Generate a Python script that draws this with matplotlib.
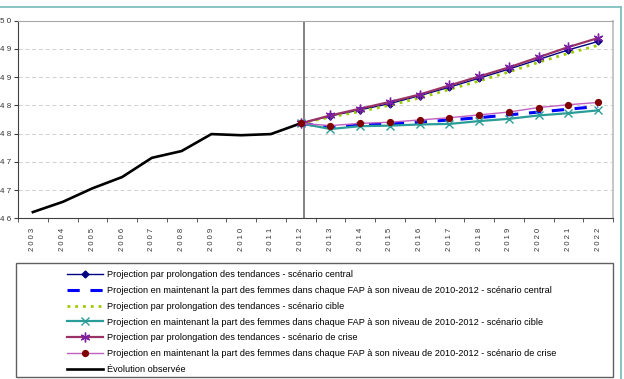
import matplotlib
matplotlib.use("Agg")
import matplotlib.pyplot as plt
from matplotlib.lines import Line2D
from matplotlib.patches import Rectangle
import numpy as np

plt.rcParams["font.family"] = ["Liberation Sans Narrow", "Liberation Sans", "DejaVu Sans"]

YEARS = [str(y) for y in range(2003, 2023)]
OBS_YEARS = YEARS[:10]
PROJ_YEARS = YEARS[9:]

observed = [46.11, 46.29, 46.53, 46.73, 47.07, 47.19, 47.49, 47.47, 47.49, 47.68]

# projections, 2012 -> 2022
tend_central = [47.68, 47.81, 47.92, 48.03, 48.17, 48.32, 48.48, 48.64, 48.81, 48.98, 49.13]
maint_central = [47.68, 47.61, 47.65, 47.67, 47.70, 47.74, 47.78, 47.83, 47.88, 47.93, 47.98]
tend_cible = [47.68, 47.79, 47.89, 48.00, 48.13, 48.28, 48.43, 48.59, 48.76, 48.92, 49.06]
maint_cible = [47.68, 47.58, 47.63, 47.64, 47.66, 47.67, 47.72, 47.76, 47.82, 47.86, 47.91]
tend_crise = [47.68, 47.82, 47.94, 48.06, 48.19, 48.35, 48.51, 48.67, 48.85, 49.03, 49.19]
maint_crise = [47.68, 47.64, 47.68, 47.70, 47.74, 47.78, 47.83, 47.88, 47.96, 48.01, 48.05]

LABELS = [
    "Projection par prolongation des tendances - scénario central",
    "Projection en maintenant la part des femmes dans chaque FAP à son niveau de 2010-2012 - scénario central",
    "Projection par prolongation des tendances - scénario cible",
    "Projection en maintenant la part des femmes dans chaque FAP à son niveau de 2010-2012 - scénario cible",
    "Projection par prolongation des tendances - scénario de crise",
    "Projection en maintenant la part des femmes dans chaque FAP à son niveau de 2010-2012 - scénario de crise",
    "Évolution observée",
]
Y_TICKS = [46.0, 46.5, 47.0, 47.5, 48.0, 48.5, 49.0, 49.5]

W, H = 624, 379
fig = plt.figure(figsize=(W / 100, H / 100), dpi=100)
ax = fig.add_axes([18 / W, 1 - 218.3 / H, (613 - 18) / W, (218.3 - 20.5) / H])

xo = np.arange(len(OBS_YEARS))
xp = np.arange(9, 9 + len(PROJ_YEARS))

ASTER = (6, 2, 0)
styles = [
    (tend_central, dict(color="#000080", lw=1.0, marker="D", ms=3.5, mfc="#000080", mec="#000080")),
    (maint_central, dict(color="#0000ff", lw=2.2, ls=(0, (4, 3.5)))),
    (tend_cible, dict(color="#99cc00", lw=2.0, ls=(0, (1, 1.8)))),
    (maint_cible, dict(color="#2a9d98", lw=1.6, marker="x", ms=6, mew=1.0, mec="#2a9d98")),
    (tend_crise, dict(color="#993366", lw=1.6, marker=ASTER, ms=7, mew=1.0, mec="#7b1fa2")),
    (maint_crise, dict(color="#c060c0", lw=1.0, marker="o", ms=4.2, mfc="#800000", mec="#800000")),
]

ax.plot(xo, observed, color="black", lw=1.9, zorder=3)
handles = []
for vals, st in styles:
    ax.plot(xp, vals, zorder=4, **st)
    handles.append(Line2D([], [], **st))
handles.append(Line2D([], [], color="black", lw=1.9))

ax.axvline(9.12, color="#606060", lw=1.1, zorder=2)

ax.set_xlim(-0.5, len(YEARS) - 0.5)
ax.set_ylim(46, 49.5)
ax.set_yticks(Y_TICKS)
ax.set_yticklabels([" ".join(str(int(np.floor(v + 0.5)))) for v in Y_TICKS],
                   fontsize=5.8, color="#333333")
ax.set_xticks(np.arange(len(YEARS)))
ax.set_xticklabels([" ".join(y) for y in YEARS], rotation=90, fontsize=5.5,
                   color="#333333", va="top")
ax.set_xticks(np.arange(-0.5, len(YEARS)), minor=True)
ax.tick_params(axis="x", which="major", length=0, pad=7)
ax.tick_params(axis="x", which="minor", length=3, color="#404040")
ax.tick_params(axis="y", length=3, color="#404040", pad=2)

for y in Y_TICKS[1:]:
    ax.axhline(y, color="#d0d0d0", lw=0.7, ls=(0, (4, 3)), zorder=1)

ax.spines["left"].set_color("#404040")
ax.spines["bottom"].set_color("#404040")
ax.spines["top"].set_color("#a8a8a8")
ax.spines["right"].set_color("#c0c0c0")
ax.spines["right"].set_linewidth(1.3)

# legend box
fig.patches.append(Rectangle((16 / W, 1 - 377 / H), (613 - 16) / W, (377 - 263) / H,
                             transform=fig.transFigure, fill=False,
                             edgecolor="#606060", lw=1.0))
fig.legend(handles, LABELS, loc="upper left",
           bbox_to_anchor=(60 / W, 1 - 263 / H), frameon=False,
           fontsize=6.6, handlelength=3.9, handletextpad=0.45,
           labelspacing=0.74, borderpad=0.3)

# outer chart frame
fig.add_artist(Line2D([0, 621 / W], [1 - 6.5 / H, 1 - 6.5 / H],
                      transform=fig.transFigure, color="#7fbfc0", lw=1.3))
fig.add_artist(Line2D([621 / W, 621 / W], [0, 1 - 6.5 / H],
                      transform=fig.transFigure, color="#7fbfc0", lw=1.3))

fig.savefig("out.png", dpi=100)
